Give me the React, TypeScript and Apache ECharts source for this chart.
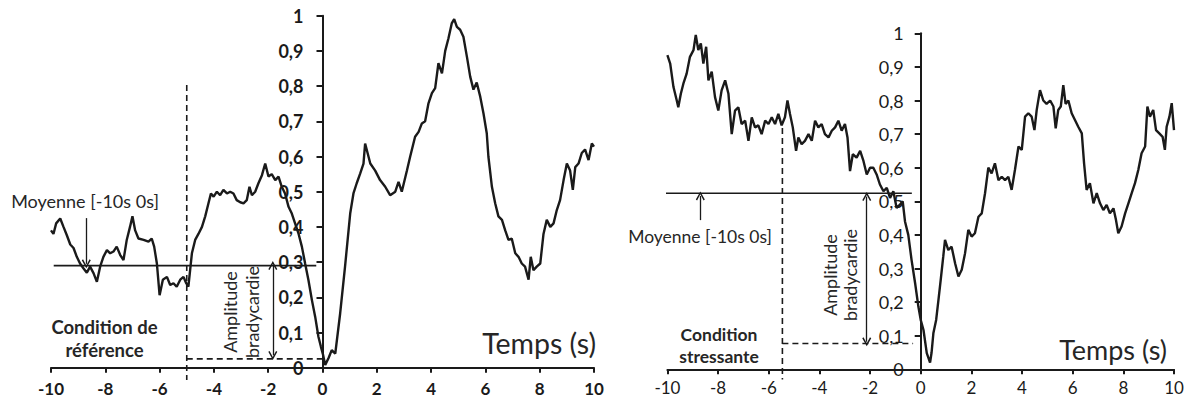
import React, { useEffect, useRef } from "react";
import * as echarts from "echarts";

// ---------- data ----------
const leftTimes = [
  -10.0, -9.91, -9.81, -9.66, -9.54, -9.42, -9.29, -9.17, -9.05, -8.93, -8.8, -8.68, -8.56, -8.43, -8.31, -8.19,
  -8.07, -7.94, -7.82, -7.7, -7.58, -7.45, -7.33, -7.21, -7.09, -7.0, -6.9, -6.78, -6.59, -6.41, -6.29, -6.2,
  -6.1, -6.0, -5.88, -5.73, -5.61, -5.49, -5.37, -5.24, -5.12, -5.02, -4.94, -4.81, -4.69, -4.57, -4.44, -4.32,
  -4.2, -4.11, -4.01, -3.89, -3.77, -3.65, -3.52, -3.4, -3.28, -3.16, -3.03, -2.91, -2.79, -2.69, -2.6, -2.48,
  -2.36, -2.23, -2.11, -1.99, -1.87, -1.74, -1.62, -1.5, -1.38, -1.25, -1.13, -1.01, -0.88, -0.76, -0.64, -0.52,
  -0.39, -0.27, -0.15, -0.06, 0.01, 0.1, 0.22, 0.34, 0.47, 0.65, 0.83, 1.02, 1.14, 1.26, 1.39, 1.51,
  1.57, 1.76, 1.94, 2.12, 2.31, 2.49, 2.68, 2.8, 2.92, 3.11, 3.23, 3.41, 3.54, 3.66, 3.78, 3.9,
  4.03, 4.15, 4.27, 4.4, 4.52, 4.64, 4.76, 4.85, 4.95, 5.07, 5.19, 5.32, 5.44, 5.56, 5.68, 5.81,
  5.93, 6.05, 6.11, 6.24, 6.36, 6.48, 6.61, 6.73, 6.85, 6.97, 7.1, 7.22, 7.34, 7.46, 7.59, 7.67,
  7.77, 7.89, 8.02, 8.14, 8.26, 8.39, 8.51, 8.63, 8.75, 8.88, 9.0, 9.12, 9.22, 9.31, 9.43, 9.55,
  9.67, 9.8, 9.92, 10.0,
];
const leftValues = [
  0.39, 0.38, 0.41, 0.424, 0.4, 0.377, 0.35, 0.34, 0.315, 0.296, 0.282, 0.27, 0.287, 0.268, 0.244, 0.287,
  0.315, 0.334, 0.325, 0.33, 0.344, 0.32, 0.306, 0.363, 0.4, 0.43, 0.39, 0.367, 0.363, 0.358, 0.367, 0.344,
  0.296, 0.206, 0.25, 0.258, 0.235, 0.24, 0.23, 0.25, 0.258, 0.24, 0.23, 0.325, 0.363, 0.38, 0.4, 0.43,
  0.467, 0.495, 0.486, 0.5, 0.49, 0.505, 0.495, 0.5, 0.495, 0.476, 0.47, 0.467, 0.476, 0.514, 0.49, 0.5,
  0.524, 0.547, 0.58, 0.543, 0.55, 0.533, 0.543, 0.514, 0.495, 0.457, 0.438, 0.41, 0.38, 0.344, 0.296, 0.25,
  0.192, 0.145, 0.088, 0.06, 0.04, 0.008, 0.027, 0.05, 0.04, 0.154, 0.287, 0.438, 0.495, 0.524, 0.552, 0.58,
  0.637, 0.58, 0.56, 0.533, 0.514, 0.49, 0.5, 0.528, 0.5, 0.56, 0.6, 0.656, 0.67, 0.694, 0.7, 0.75,
  0.78, 0.794, 0.865, 0.836, 0.9, 0.936, 0.978, 0.99, 0.968, 0.96, 0.94, 0.883, 0.827, 0.79, 0.81, 0.77,
  0.722, 0.666, 0.6, 0.514, 0.467, 0.43, 0.42, 0.39, 0.363, 0.367, 0.325, 0.315, 0.296, 0.287, 0.25, 0.315,
  0.277, 0.287, 0.296, 0.38, 0.42, 0.4, 0.41, 0.448, 0.476, 0.533, 0.58, 0.56, 0.505, 0.57, 0.58, 0.61,
  0.62, 0.59, 0.637, 0.628,
];

const rightTimes = [
  -10.0, -9.89, -9.76, -9.63, -9.57, -9.47, -9.37, -9.24, -9.11, -8.97, -8.88, -8.78, -8.68, -8.58, -8.47, -8.38,
  -8.25, -8.12, -7.99, -7.86, -7.72, -7.59, -7.46, -7.33, -7.2, -7.07, -6.93, -6.8, -6.67, -6.54, -6.41, -6.28,
  -6.14, -6.01, -5.88, -5.75, -5.62, -5.49, -5.36, -5.26, -5.16, -5.05, -4.92, -4.83, -4.7, -4.57, -4.43, -4.3,
  -4.17, -4.04, -3.91, -3.78, -3.64, -3.51, -3.38, -3.25, -3.12, -2.99, -2.89, -2.79, -2.68, -2.53, -2.39, -2.26,
  -2.13, -2.0, -1.87, -1.74, -1.61, -1.47, -1.34, -1.21, -1.08, -0.95, -0.82, -0.71, -0.62, -0.49, -0.36, -0.22,
  -0.09, 0.0, 0.11, 0.24, 0.37, 0.43, 0.5, 0.61, 0.7, 0.79, 0.89, 0.96, 1.09, 1.22, 1.36, 1.49,
  1.62, 1.75, 1.88, 2.01, 2.14, 2.28, 2.41, 2.54, 2.67, 2.8, 2.93, 3.07, 3.2, 3.33, 3.46, 3.59,
  3.72, 3.86, 3.99, 4.12, 4.25, 4.38, 4.49, 4.58, 4.71, 4.84, 4.97, 5.11, 5.24, 5.33, 5.43, 5.53,
  5.63, 5.72, 5.83, 5.96, 6.09, 6.22, 6.36, 6.45, 6.55, 6.68, 6.82, 6.95, 7.08, 7.21, 7.34, 7.47,
  7.61, 7.71, 7.8, 7.93, 8.07, 8.2, 8.33, 8.46, 8.59, 8.72, 8.86, 8.95, 9.05, 9.18, 9.29, 9.42,
  9.55, 9.64, 9.71, 9.82, 9.91, 10.0,
];
const rightValues = [
  0.935, 0.91, 0.84, 0.8, 0.78, 0.82, 0.85, 0.88, 0.93, 0.95, 0.995, 0.95, 0.97, 0.91, 0.96, 0.86,
  0.886, 0.81, 0.77, 0.83, 0.86, 0.82, 0.7, 0.77, 0.78, 0.73, 0.74, 0.68, 0.75, 0.72, 0.726, 0.7,
  0.74, 0.73, 0.75, 0.73, 0.76, 0.726, 0.75, 0.8, 0.76, 0.72, 0.65, 0.69, 0.67, 0.68, 0.7, 0.68,
  0.74, 0.72, 0.73, 0.7, 0.69, 0.71, 0.72, 0.74, 0.71, 0.73, 0.69, 0.59, 0.64, 0.63, 0.65, 0.62,
  0.58, 0.6, 0.6, 0.58, 0.55, 0.53, 0.54, 0.51, 0.53, 0.48, 0.49, 0.5, 0.44, 0.4, 0.325, 0.256,
  0.186, 0.147, 0.117, 0.048, 0.02, 0.05, 0.107, 0.147, 0.206, 0.266, 0.335, 0.385, 0.355, 0.365, 0.315, 0.276,
  0.296, 0.345, 0.415, 0.395, 0.405, 0.454, 0.464, 0.524, 0.6, 0.583, 0.613, 0.563, 0.573, 0.563, 0.573, 0.534,
  0.593, 0.663, 0.653, 0.752, 0.762, 0.752, 0.712, 0.772, 0.831, 0.8, 0.79, 0.8, 0.782, 0.717, 0.772, 0.782,
  0.846, 0.79, 0.8, 0.762, 0.742, 0.722, 0.702, 0.613, 0.534, 0.554, 0.494, 0.524, 0.494, 0.474, 0.489, 0.464,
  0.479, 0.444, 0.405, 0.425, 0.464, 0.494, 0.524, 0.554, 0.593, 0.643, 0.663, 0.782, 0.752, 0.772, 0.712, 0.702,
  0.692, 0.653, 0.722, 0.752, 0.792, 0.712,
];

// annotation values
const leftMean = 0.29;
const leftMeanSpan = [-9.9, -0.23];
const leftCut = -5;
const leftCutTop = 0.803;
const leftMin = 0.025;
const leftMinEnd = 0.1;
const leftAmpX = -1.83;
const leftMoyArrowX = -8.7;
const leftMoyArrowTop = 0.425;

const rightMean = 0.524;
const rightMeanSpan = [-10.5, -0.35];
const rightCut = -5.46;
const rightCutTop = 0.718;
const rightMin = 0.077;
const rightMinEnd = -0.3;
const rightAmpX = -2.13;
const rightMoyArrowX = -8.7;
const rightMoyArrowBottom = 0.444;

const xTicks = [-10, 10, 2];

const FONT = "Lato";
const INK = "#1a1a1a";
const TXT = "#262626";
const CHEVRON = "path://M5,0 L10,9 L8.6,10 L5,3.2 L1.4,10 L0,9 Z";

function pairs(t: number[], v: number[]) {
  return t.map((x, i) => [x, v[i]]);
}

const fmtY = (v: number) => {
  if (Math.abs(v) < 1e-9) return "0";
  if (Math.abs(v - 1) < 1e-9) return "1";
  return v.toFixed(1).replace(".", ",");
};

// grid layout (pixels)
const G0 = { left: 51, top: 15.7, width: 543, height: 352 };
const G1 = { left: 667.4, top: 33.3, width: 506.6, height: 336 };

export default function App() {
  const ref = useRef<HTMLDivElement>(null);
  useEffect(() => {
    document.body.style.margin = "0";
    const chart = echarts.init(ref.current!, undefined, { renderer: "svg" });

    const mkX = (gi: number, bold: boolean, size: number, margin: number) => ({
      type: "value",
      gridIndex: gi,
      min: xTicks[0],
      max: xTicks[1],
      interval: xTicks[2],
      axisLine: { show: true, lineStyle: { color: INK, width: 2 } },
      axisTick: { show: true, length: 5, lineStyle: { color: INK, width: 2 } },
      axisLabel: {
        show: true,
        color: INK,
        fontFamily: FONT,
        fontSize: size,
        fontWeight: bold ? "bold" : "normal",
        margin,
      },
      splitLine: { show: false },
    });
    // y axis shifted to the x = 0 position of its grid
    const mkY = (gi: number, bold: boolean, size: number, margin: number, g: { width: number }) => ({
      type: "value",
      gridIndex: gi,
      min: 0,
      max: 1,
      interval: 0.1,
      position: "left",
      offset: -g.width / 2,
      axisLine: { show: true, onZero: false, lineStyle: { color: INK, width: 2 } },
      axisTick: { show: true, length: 6, lineStyle: { color: INK, width: 2 } },
      axisLabel: {
        show: true,
        color: INK,
        fontFamily: FONT,
        fontSize: size,
        fontWeight: bold ? "bold" : "normal",
        margin,
        formatter: fmtY,
      },
      splitLine: { show: false },
    });

    const curve = (gi: number, data: number[][]) => ({
      type: "line",
      xAxisIndex: gi,
      yAxisIndex: gi,
      data,
      symbol: "none",
      silent: true,
      lineStyle: { color: INK, width: 2.4 },
      z: 5,
    });

    const seg = (gi: number, data: number[][], dashed: boolean) => ({
      type: "line",
      xAxisIndex: gi,
      yAxisIndex: gi,
      data,
      symbol: "none",
      silent: true,
      clip: false,
      lineStyle: { color: INK, width: 1.6, type: dashed ? [6, 4] : "solid" },
      z: 4,
    });

    const arrows = (gi: number, items: any[]) => ({
      type: "line",
      xAxisIndex: gi,
      yAxisIndex: gi,
      data: [],
      silent: true,
      markLine: {
        silent: true,
        animation: false,
        symbol: ["none", "none"],
        symbolSize: [9, 9],
        label: { show: false },
        emphasis: { disabled: true },
        lineStyle: { color: INK, width: 1.3, type: "solid" },
        data: items,
      },
    });

    const option = {
      animation: false,
      grid: [G0, G1],
      xAxis: [mkX(0, true, 17, 12), mkX(1, false, 17, 10)],
      yAxis: [mkY(0, true, 18, 19, G0), mkY(1, false, 18, 17, G1)],
      series: [
        curve(0, pairs(leftTimes, leftValues)),
        seg(0, [[leftMeanSpan[0], leftMean], [leftMeanSpan[1], leftMean]], false),
        seg(0, [[leftCut, leftCutTop], [leftCut, -0.035]], true),
        seg(0, [[leftCut, leftMin], [leftMinEnd, leftMin]], true),
        arrows(0, [
          [
            { coord: [leftAmpX, leftMean], symbol: CHEVRON },
            { coord: [leftAmpX, leftMin + 0.01], symbol: CHEVRON },
          ],
          [
            { coord: [leftMoyArrowX, leftMoyArrowTop], symbol: "none" },
            { coord: [leftMoyArrowX, leftMean + 0.005], symbol: CHEVRON },
          ],
        ]),
        curve(1, pairs(rightTimes, rightValues)),
        seg(1, [[rightMeanSpan[0], rightMean], [rightMeanSpan[1], rightMean]], false),
        seg(1, [[rightCut, rightCutTop], [rightCut, -0.03]], true),
        seg(1, [[rightCut, rightMin], [rightMinEnd, rightMin]], true),
        arrows(1, [
          [
            { coord: [rightAmpX, rightMean - 0.01], symbol: CHEVRON },
            { coord: [rightAmpX, rightMin + 0.005], symbol: CHEVRON },
          ],
          [
            { coord: [rightMoyArrowX, rightMoyArrowBottom], symbol: "none" },
            { coord: [rightMoyArrowX, rightMean - 0.008], symbol: CHEVRON },
          ],
        ]),
      ],
      graphic: [
        {
          type: "text", x: 85, y: 201, silent: true,
          style: { text: "Moyenne [-10s 0s]", fill: TXT, font: `18px ${FONT}`, align: "center", verticalAlign: "middle" },
        },
        {
          type: "text", x: 104.5, y: 338, silent: true,
          style: { text: "Condition de\nréférence", fill: TXT, font: `bold 18.5px ${FONT}`, lineHeight: 23, align: "center", verticalAlign: "middle" },
        },
        {
          type: "text", x: 241, y: 312, rotation: Math.PI / 2, silent: true,
          style: { text: "Amplitude\nbradycardie", fill: TXT, font: `18px ${FONT}`, lineHeight: 22, align: "center", verticalAlign: "middle" },
        },
        {
          type: "text", x: 596, y: 343, silent: true,
          style: { text: "Temps (s)", fill: TXT, font: `28.5px ${FONT}`, align: "right", verticalAlign: "middle" },
        },
        {
          type: "text", x: 700, y: 236, silent: true,
          style: { text: "Moyenne [-10s 0s]", fill: TXT, font: `17.5px ${FONT}`, align: "center", verticalAlign: "middle" },
        },
        {
          type: "text", x: 719, y: 345, silent: true,
          style: { text: "Condition\nstressante", fill: TXT, font: `bold 17.5px ${FONT}`, lineHeight: 22, align: "center", verticalAlign: "middle" },
        },
        {
          type: "text", x: 840, y: 275, rotation: Math.PI / 2, silent: true,
          style: { text: "Amplitude\nbradycardie", fill: TXT, font: `18px ${FONT}`, lineHeight: 20, align: "center", verticalAlign: "middle" },
        },
        {
          type: "text", x: 1167, y: 349, silent: true,
          style: { text: "Temps (s)", fill: TXT, font: `27px ${FONT}`, align: "right", verticalAlign: "middle" },
        },
      ],
    };
    chart.setOption(option as any);
    return () => chart.dispose();
  }, []);
  return <div ref={ref} style={{ width: 1191, height: 408 }} />;
}
